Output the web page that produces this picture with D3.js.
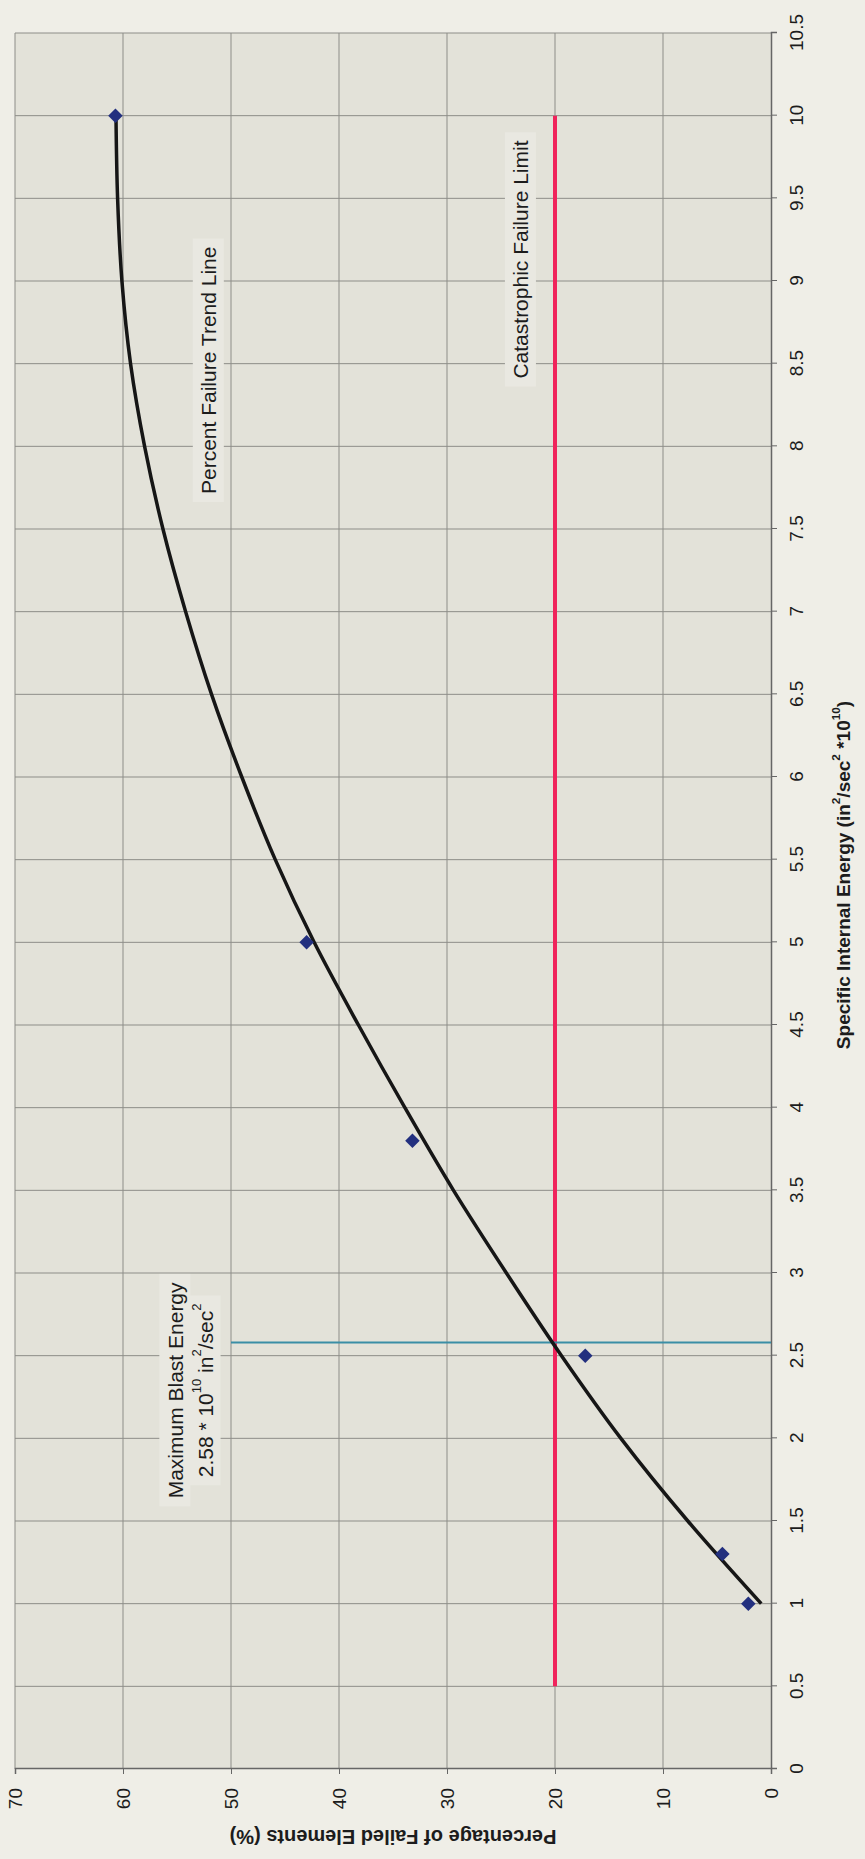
<!DOCTYPE html>
<html>
<head>
<meta charset="utf-8">
<script src="https://cdn.jsdelivr.net/npm/d3@7"></script>
<style>
  body { margin: 0; background: #efeee7; }
  svg { display: block; }
  text { font-family: "Liberation Sans", Arial, sans-serif; fill: #1c1c1c; }
</style>
</head>
<body>
<script>
// Failed elements vs specific internal energy. The printed chart sits turned a quarter
// turn on the page, so it is drawn as a normal chart and then rotated -90 degrees.

// Axis ticks.
const energyTicks = [0, 0.5, 1, 1.5, 2, 2.5, 3, 3.5, 4, 4.5, 5, 5.5, 6, 6.5, 7, 7.5, 8, 8.5, 9, 9.5, 10, 10.5];
const percentTicks = [0, 10, 20, 30, 40, 50, 60, 70];

// Measured points (diamonds).
const pointEnergy = [1, 1.3, 2.5, 3.8, 5, 10];
const pointPercent = [2.1, 4.5, 17.2, 33.2, 43.0, 60.7];

// Trend line.
const trendEnergy = [1, 1.5, 2, 2.5, 3, 3.5, 4, 4.5, 5, 5.5, 6, 6.5, 7, 7.5, 8, 8.5, 9, 9.5, 10];
const trendPercent = [0.9, 7.7, 13.9, 19.4, 24.5, 29.4, 33.9, 38.2, 42.3, 45.9, 49.0, 51.8, 54.2, 56.3, 58.0, 59.3, 60.1, 60.5, 60.65];

// Catastrophic failure limit and the maximum blast energy marker.
const limitPercent = 20;
const limitEnergy = [0.5, 10];
const blastEnergy = 2.58;
const blastPercent = [0, 50];

const pageW = 865, pageH = 1859;

const svg = d3.select("body").append("svg")
    .attr("width", pageW).attr("height", pageH);

// chart coordinates: x runs along the energy axis, y down the percent axis
const g = svg.append("g")
    .attr("transform", `translate(0,${pageH}) rotate(-90)`);

const x = d3.scaleLinear().domain([0, 10.5]).range([90, 1826]);
const y = d3.scaleLinear().domain([0, 70]).range([771, 15]);

// Plot background.
g.append("rect")
    .attr("x", x(0)).attr("y", y(70))
    .attr("width", x(10.5) - x(0)).attr("height", y(0) - y(70))
    .attr("fill", "#e3e2d9");

// Grid lines.
g.append("g").selectAll("line")
    .data(energyTicks.filter(d => d > 0))
    .join("line")
    .attr("x1", d => x(d)).attr("x2", d => x(d))
    .attr("y1", y(0)).attr("y2", y(70))
    .attr("stroke", "#8d8d88").attr("stroke-width", 1);
g.append("g").selectAll("line")
    .data(percentTicks.filter(d => d > 0))
    .join("line")
    .attr("x1", x(0)).attr("x2", x(10.5))
    .attr("y1", d => y(d)).attr("y2", d => y(d))
    .attr("stroke", "#8d8d88").attr("stroke-width", 1);

// Light boxes go under the annotation texts.
const boxLayer = g.append("g");

// Axes.
const xAxis = g.append("g")
    .attr("transform", `translate(0,${y(0)})`)
    .call(d3.axisBottom(x).tickValues(energyTicks).tickFormat(d => String(d))
        .tickSize(6).tickPadding(13));
const yAxis = g.append("g")
    .attr("transform", `translate(${x(0)},0)`)
    .call(d3.axisLeft(y).tickValues(percentTicks).tickFormat(d => String(d))
        .tickSize(5).tickPadding(14));
[xAxis, yAxis].forEach(a => {
    a.select(".domain").attr("stroke", "#666").attr("stroke-width", 1.5);
    a.selectAll(".tick line").attr("stroke", "#666");
    a.selectAll(".tick text").attr("font-size", 19).attr("fill", "#1c1c1c")
        .style("font-family", "'Liberation Sans', Arial, sans-serif");
});

// Text with superscript parts.
function rich (sel, parts, size) {
    let up = false;
    parts.forEach(([s, sup]) => {
        const t = sel.append("tspan").text(s);
        if (sup) {
            t.attr("font-size", size * 0.62);
            if (!up) { t.attr("dy", -size * 0.42); up = true; }
        } else if (up) {
            t.attr("dy", size * 0.42); up = false;
        }
    });
}

// Axis titles.
const xTitle = g.append("text")
    .attr("x", 984).attr("y", 843)
    .attr("text-anchor", "middle").attr("dominant-baseline", "central")
    .attr("font-size", 19).attr("font-weight", "bold");
rich(xTitle, [["Specific Internal Energy (in"], ["2", 1], ["/sec"], ["2", 1], [" *10"], ["10", 1], [")"]], 19);

g.append("text")
    .attr("transform", `translate(22,${(y(0) + y(70)) / 2}) rotate(-90)`)
    .attr("text-anchor", "middle").attr("dominant-baseline", "central")
    .attr("font-size", 20).attr("font-weight", "bold")
    .text("Percentage of Failed Elements (%)");

// Catastrophic failure limit.
g.append("line")
    .attr("x1", x(limitEnergy[0])).attr("x2", x(limitEnergy[1]))
    .attr("y1", y(limitPercent)).attr("y2", y(limitPercent))
    .attr("stroke", "#f0245c").attr("stroke-width", 4);

// Maximum blast energy marker.
g.append("line")
    .attr("x1", x(blastEnergy)).attr("x2", x(blastEnergy))
    .attr("y1", y(blastPercent[0])).attr("y2", y(blastPercent[1]))
    .attr("stroke", "#3a8ea6").attr("stroke-width", 2);

// Trend line.
const line = d3.line()
    .x((d, i) => x(trendEnergy[i]))
    .y(d => y(d))
    .curve(d3.curveMonotoneX);
g.append("path")
    .datum(trendPercent)
    .attr("d", line)
    .attr("fill", "none").attr("stroke", "#161616").attr("stroke-width", 3.5);

// Data points.
g.append("g").selectAll("path")
    .data(pointEnergy)
    .join("path")
    .attr("d", d3.symbol(d3.symbolSquare, 105))
    .attr("transform", (d, i) => `translate(${x(d)},${y(pointPercent[i])}) rotate(45)`)
    .attr("fill", "#23307f");

// Annotation text with a light box behind it.
function label (energy, percent, parts) {
    const t = g.append("text")
        .attr("x", x(energy)).attr("y", y(percent))
        .attr("text-anchor", "middle").attr("dominant-baseline", "central")
        .attr("font-size", 21);
    rich(t, parts, 21);
    const b = t.node().getBBox();
    boxLayer.append("rect")
        .attr("x", b.x - 8).attr("y", b.y - 4)
        .attr("width", b.width + 16).attr("height", b.height + 8)
        .attr("fill", "#e9e8e1");
}

label(8.46, 52.1, [["Percent Failure Trend Line"]]);
label(9.13, 23.2, [["Catastrophic Failure Limit"]]);
label(2.29, 55.2, [["Maximum Blast Energy"]]);
label(2.29, 52.4, [["2.58 * 10"], ["10", 1], [" in"], ["2", 1], ["/sec"], ["2", 1]]);
</script>
</body>
</html>
